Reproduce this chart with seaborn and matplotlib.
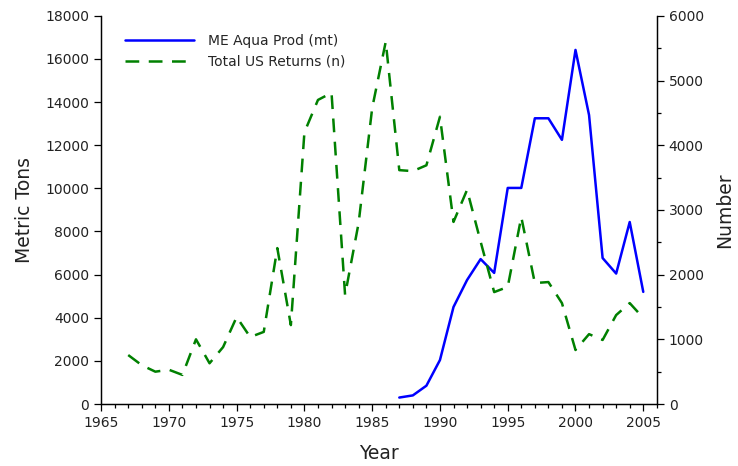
import matplotlib
matplotlib.use("Agg")
from matplotlib import pyplot as plt
from matplotlib.ticker import MultipleLocator
import pandas as pd
import seaborn as sns

# Maine aquaculture production (metric tons)
aqua_years = list(range(1987, 2006))
aqua_prod = [300, 400, 850, 2040, 4500, 5750, 6720, 6080, 10020, 10020,
             13250, 13250, 12250, 16420, 13400, 6770, 6050, 8440, 5200]

# Total US returns (number)
ret_years = list(range(1967, 2006))
us_returns = [757, 600, 500, 530, 450, 1000, 630, 880, 1345, 1035,
              1115, 2410, 1220, 4200, 4700, 4810, 1685, 2800, 4575, 5600,
              3615, 3600, 3690, 4440, 2815, 3310, 2510, 1730, 1810, 2890,
              1870, 1885, 1560, 835, 1080, 990, 1375, 1560, 1330]

df_aqua = pd.DataFrame({"Year": aqua_years, "Prod": aqua_prod})
df_ret = pd.DataFrame({"Year": ret_years, "Returns": us_returns})

sns.set_style("white")
plt.rcParams["font.family"] = ["DejaVu Sans"]

fig = plt.figure(figsize=(7.38, 4.66), dpi=100)
ax = fig.add_axes([0.137, 0.133, 0.753, 0.833])
ax2 = ax.twinx()

sns.lineplot(x="Year", y="Prod", data=df_aqua, ax=ax, color="#0000ff",
             linewidth=1.8, label="ME Aqua Prod (mt)", legend=False)
sns.lineplot(x="Year", y="Returns", data=df_ret, ax=ax2, color="#008000",
             linewidth=1.8, label="Total US Returns (n)", legend=False)
ax2.lines[0].set_dashes([5.5, 3.8])

ax.set_xlim(1965, 2006)
ax.set_ylim(0, 18000)
ax2.set_ylim(0, 6000)
ax.xaxis.set_major_locator(MultipleLocator(5))
ax.xaxis.set_minor_locator(MultipleLocator(1))
ax.yaxis.set_major_locator(MultipleLocator(2000))
ax2.yaxis.set_major_locator(MultipleLocator(1000))
ax2.yaxis.set_minor_locator(MultipleLocator(500))

for a in (ax, ax2):
    a.spines["top"].set_visible(False)
    for s in a.spines.values():
        s.set_color("black")
        s.set_linewidth(0.9)
    a.tick_params(which="major", direction="out", length=5, width=0.9,
                  colors="black", labelsize=10, labelcolor="#222222")
    a.tick_params(which="minor", direction="out", length=3, width=0.9,
                  colors="black")
ax.tick_params(axis="both", which="both", bottom=True, left=True)
ax2.tick_params(axis="y", which="both", right=True)

ax.set_xlabel("Year", fontsize=13.5, labelpad=10, color="#222222")
ax.set_ylabel("Metric Tons", fontsize=13.5, labelpad=8, color="#222222")
ax2.set_ylabel("Number", fontsize=13.5, labelpad=8, color="#222222")

handles = ax.get_lines()[:1] + ax2.get_lines()[:1]
ax.legend(handles, [h.get_label() for h in handles], loc="upper left",
          frameon=False, fontsize=10, handlelength=5.0, handletextpad=1.0,
          labelspacing=0.45, bbox_to_anchor=(0.02, 0.985))

fig.savefig("out.png", dpi=100)
